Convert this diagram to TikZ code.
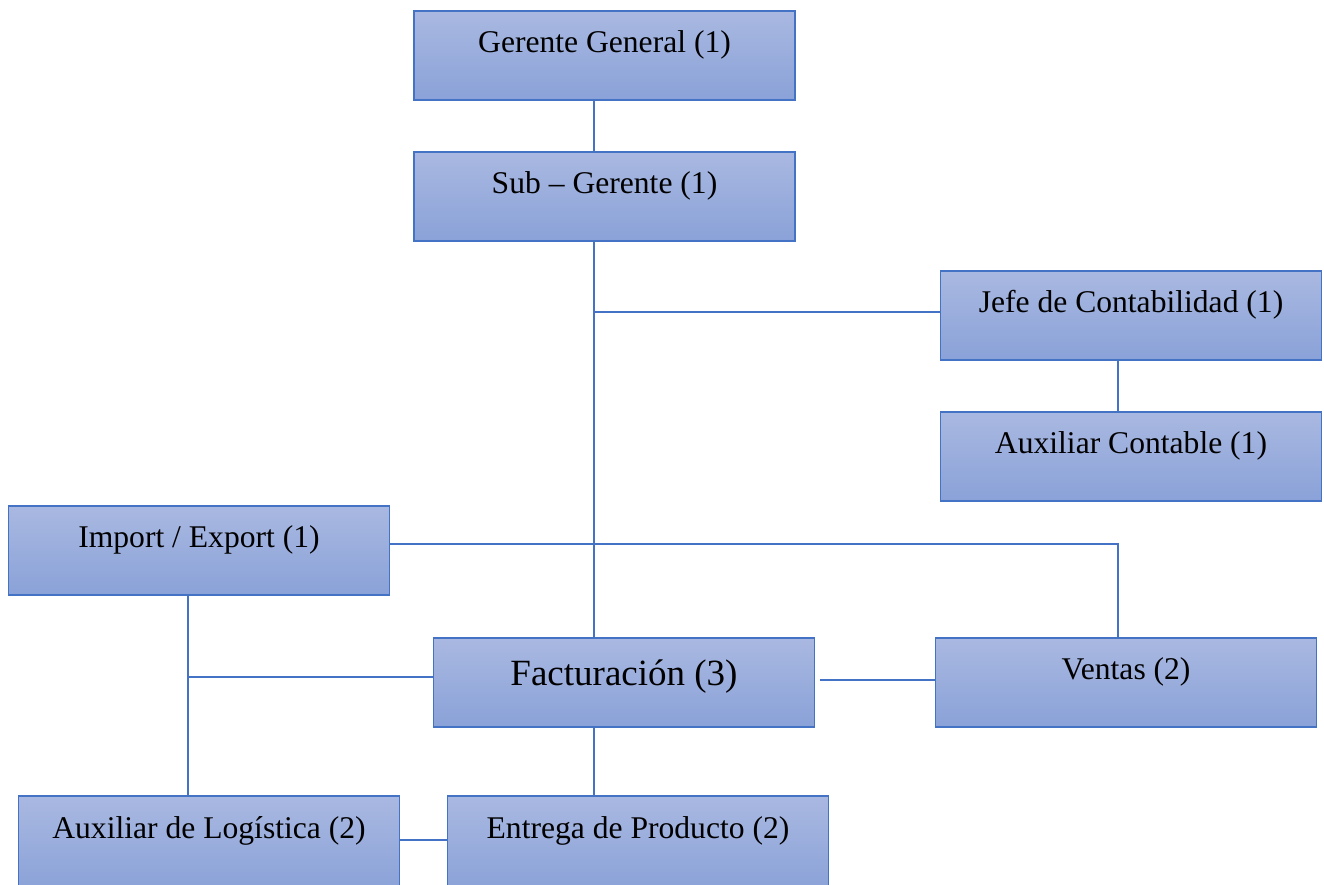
\documentclass[tikz,border=0pt]{standalone}
\usepackage{fontspec}
\setmainfont{Liberation Serif}
\definecolor{azul}{HTML}{4472C4}
\definecolor{arriba}{HTML}{A9B8E1}
\definecolor{abajo}{HTML}{8AA2D8}
\begin{document}
\begin{tikzpicture}[x=1pt,y=-1pt]
			\tikzset{cargo/.style={rectangle, draw=azul, line width=1.4pt, top color=arriba, bottom color=abajo, minimum width=381pt, minimum height=89pt, inner sep=0pt, text height=22pt, text depth=29pt, font=\fontsize{31.6}{38}\selectfont},
				cortado/.style={minimum height=95pt, text depth=33pt},
				linea/.style={draw=azul, line width=1.2pt}}
			\useasboundingbox (0,0) rectangle (1324,884);

			\node[cargo] at (604.5, 55.5) (gg) {Gerente General (1)};
			\node[cargo] at (604.5, 196.5) (sub) {Sub -- Gerente (1)};
			\node[cargo] at (1131, 315.5) (jefe) {Jefe de Contabilidad (1)};
			\node[cargo] at (1131, 456.5) (auxc) {Auxiliar Contable (1)};
			\node[cargo] at (199, 550.5) (impo) {Import / Export (1)};
			\node[cargo, text height=27pt, text depth=22pt, font=\fontsize{37}{44}\selectfont] at (624, 682.5) (fact) {Facturación (3)};
			\node[cargo] at (1126, 682.5) (ventas) {Ventas (2)};
			\node[cargo, cortado] at (209, 843.5) (auxlog) {Auxiliar de Logística (2)};
			\node[cargo, cortado] at (638, 843.5) (entrega) {Entrega de Producto (2)};

			% ejes de las lineas
			\coordinate (eje) at (594, 0);
			\coordinate (ejec) at (1118, 0);
			\coordinate (ejel) at (188, 0);
			\coordinate (hcont) at (594, 312);
			\coordinate (himp) at (0, 544);
			\coordinate (hfac) at (188, 677);
			\coordinate (hven) at (0, 680);
			\coordinate (hlog) at (0, 840);

			% Lineas centrales
			\draw [linea] (gg.south -| eje) -- (sub.north -| eje);
			\draw [linea] (sub.south -| eje) -- (fact.north -| eje);
			\draw [linea] (fact.south -| eje) -- (entrega.north -| eje);

			% Contabilidad
			\draw [linea] (hcont) -- (hcont -| jefe.west);
			\draw [linea] (jefe.south -| ejec) -- (auxc.north -| ejec);

			% Import / Export y Ventas
			\draw [linea] (impo.east |- himp) -- (himp -| ejec) -- (ventas.north -| ejec);
			\draw [linea] (impo.south -| ejel) -- (auxlog.north -| ejel);
			\draw [linea] (hfac) -- (hfac -| fact.west);
			\draw [linea] ([xshift=5pt]fact.east |- hven) -- (hven -| ventas.west);
			\draw [linea] (auxlog.east |- hlog) -- (hlog -| entrega.west);
		\end{tikzpicture}
\end{document}
